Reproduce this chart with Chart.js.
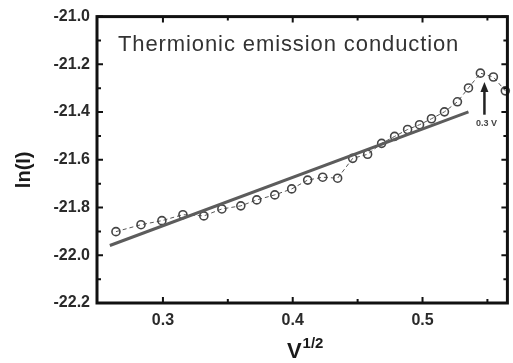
<!DOCTYPE html>
<html>
<head>
<meta charset="utf-8">
<script src="https://cdn.jsdelivr.net/npm/chart.js@4"></script>
<style>
  html, body { margin: 0; padding: 0; background: #fff; }
  #wrap { width: 513px; height: 363px; }
</style>
</head>
<body>
<div id="wrap"><canvas id="chart" width="513" height="363"></canvas></div>
<script>
// measured ln(I) vs V^(1/2)
const sqrtV = [0.2638, 0.2831, 0.2992, 0.3154, 0.3315, 0.3454, 0.3600, 0.3723, 0.3862, 0.3992,
               0.4115, 0.4231, 0.4346, 0.4462, 0.4577, 0.4685, 0.4785, 0.4885, 0.4977, 0.5069,
               0.5169, 0.5269, 0.5354, 0.5446, 0.5546, 0.5638];
const lnI = [-21.901, -21.872, -21.855, -21.830, -21.835, -21.806, -21.793, -21.768, -21.747, -21.722,
             -21.685, -21.673, -21.677, -21.594, -21.577, -21.531, -21.502, -21.473, -21.453, -21.428,
             -21.399, -21.357, -21.299, -21.237, -21.253, -21.311];

// linear fit (thermionic emission region)
const fitX = [0.2591, 0.5354];
const fitY = [-21.959, -21.399];

// arrow marking the 0.3 V point
const arrowX = 0.5477;
const arrowFromY = -21.411;
const arrowToY = -21.274;
const arrowLabel = '0.3 V';

const xTicks = [0.3, 0.4, 0.5];
const xMinor = [0.35, 0.45, 0.55];
const yTicks = [-22.2, -22.0, -21.8, -21.6, -21.4, -21.2, -21.0];
const yMinor = [-22.1, -21.9, -21.7, -21.5, -21.3, -21.1];

const noteText = 'Thermionic emission conduction';

const ink = '#1a1a1a';
const tickFont = { family: 'Liberation Sans, Arial, sans-serif', size: 16, weight: 'bold' };

// frame with inward ticks on all four sides, plus titles and notes
const decor = {
  id: 'decor',
  afterDraw(chart) {
    const ctx = chart.ctx;
    const a = chart.chartArea;
    const xs = chart.scales.x, ys = chart.scales.y;
    ctx.save();
    ctx.strokeStyle = '#111';
    ctx.lineWidth = 2;
    const tick = (vals, len) => {
      vals.forEach(v => {
        const px = xs.getPixelForValue(v);
        ctx.beginPath();
        ctx.moveTo(px, a.bottom); ctx.lineTo(px, a.bottom - len);
        ctx.moveTo(px, a.top); ctx.lineTo(px, a.top + len);
        ctx.stroke();
      });
    };
    const ytick = (vals, len) => {
      vals.forEach(v => {
        const py = ys.getPixelForValue(v);
        ctx.beginPath();
        ctx.moveTo(a.left, py); ctx.lineTo(a.left + len, py);
        ctx.moveTo(a.right, py); ctx.lineTo(a.right - len, py);
        ctx.stroke();
      });
    };
    tick(xTicks, 6); tick(xMinor, 4);
    ytick(yTicks, 6); ytick(yMinor, 4);
    ctx.lineWidth = 3;
    ctx.strokeRect(a.left, a.top, a.right - a.left, a.bottom - a.top);

    // note text
    ctx.fillStyle = '#333';
    ctx.font = '22px "Liberation Sans", Arial, sans-serif';
    ctx.letterSpacing = '0.9px';
    ctx.textBaseline = 'alphabetic';
    ctx.textAlign = 'left';
    ctx.fillText(noteText, a.left + 21, a.top + 34);
    ctx.letterSpacing = '0px';

    // arrow
    const ax = xs.getPixelForValue(arrowX);
    const ay0 = ys.getPixelForValue(arrowFromY);
    const ay1 = ys.getPixelForValue(arrowToY);
    ctx.strokeStyle = '#222';
    ctx.fillStyle = '#222';
    ctx.lineWidth = 2.5;
    ctx.beginPath();
    ctx.moveTo(ax, ay0); ctx.lineTo(ax, ay1 + 8);
    ctx.stroke();
    ctx.beginPath();
    ctx.moveTo(ax, ay1); ctx.lineTo(ax - 4, ay1 + 10); ctx.lineTo(ax + 4, ay1 + 10);
    ctx.closePath(); ctx.fill();
    ctx.font = 'bold 9px "Liberation Sans", Arial, sans-serif';
    ctx.textAlign = 'center';
    ctx.fillStyle = '#444';
    ctx.fillText(arrowLabel, ax + 2, ay0 + 11);

    // axis titles
    ctx.fillStyle = ink;
    ctx.font = 'bold 20px "Liberation Sans", Arial, sans-serif';
    ctx.save();
    ctx.translate(30, (a.top + a.bottom) / 2 + 10);
    ctx.rotate(-Math.PI / 2);
    ctx.textAlign = 'center';
    ctx.fillText('ln(I)', 0, 0);
    ctx.restore();

    const cx = (a.left + a.right) / 2 + 3;
    ctx.font = 'bold 22px "Liberation Sans", Arial, sans-serif';
    const vW = ctx.measureText('V').width;
    ctx.font = 'bold 15px "Liberation Sans", Arial, sans-serif';
    const sW = ctx.measureText('1/2').width;
    const x0 = cx - (vW + sW + 1) / 2;
    ctx.textAlign = 'left';
    ctx.font = 'bold 22px "Liberation Sans", Arial, sans-serif';
    ctx.fillText('V', x0, 358);
    ctx.font = 'bold 15px "Liberation Sans", Arial, sans-serif';
    ctx.fillText('1/2', x0 + vW + 1, 348);
    ctx.restore();
  }
};

new Chart(document.getElementById('chart'), {
  type: 'line',
  data: {
    datasets: [
      {
        label: 'ln(I)',
        data: sqrtV.map((x, i) => ({ x: x, y: lnI[i] })),
        borderColor: '#555',
        borderWidth: 1,
        borderDash: [4, 3],
        pointRadius: 4,
        pointBorderWidth: 1.6,
        pointBorderColor: '#444',
        pointBackgroundColor: 'rgba(255,255,255,0)',
        fill: false,
        clip: false,
        order: 2
      },
      {
        label: 'fit',
        data: fitX.map((x, i) => ({ x: x, y: fitY[i] })),
        borderColor: '#5c5c5c',
        borderWidth: 3,
        pointRadius: 0,
        fill: false,
        order: 1
      }
    ]
  },
  options: {
    responsive: false,
    animation: false,
    layout: { padding: { top: 14, right: 5, left: 0, bottom: 0 } },
    plugins: { legend: { display: false }, tooltip: { enabled: false } },
    scales: {
      x: {
        type: 'linear',
        min: 0.2492,
        max: 0.5654,
        afterBuildTicks: s => { s.ticks = xTicks.map(v => ({ value: v })); },
        afterFit: s => { s.height = 60; },
        grid: { display: false, drawTicks: false },
        border: { display: false },
        ticks: {
          color: '#2a2a2a',
          font: tickFont,
          padding: 8,
          maxRotation: 0,
          callback: v => v.toFixed(1)
        }
      },
      y: {
        type: 'linear',
        min: -22.2,
        max: -21.0,
        afterBuildTicks: s => { s.ticks = yTicks.map(v => ({ value: v })); },
        afterFit: s => { s.width = 97; },
        grid: { display: false, drawTicks: false },
        border: { display: false },
        ticks: {
          color: '#2a2a2a',
          font: tickFont,
          padding: 7,
          callback: v => v.toFixed(1)
        }
      }
    }
  },
  plugins: [decor]
});
</script>
</body>
</html>
